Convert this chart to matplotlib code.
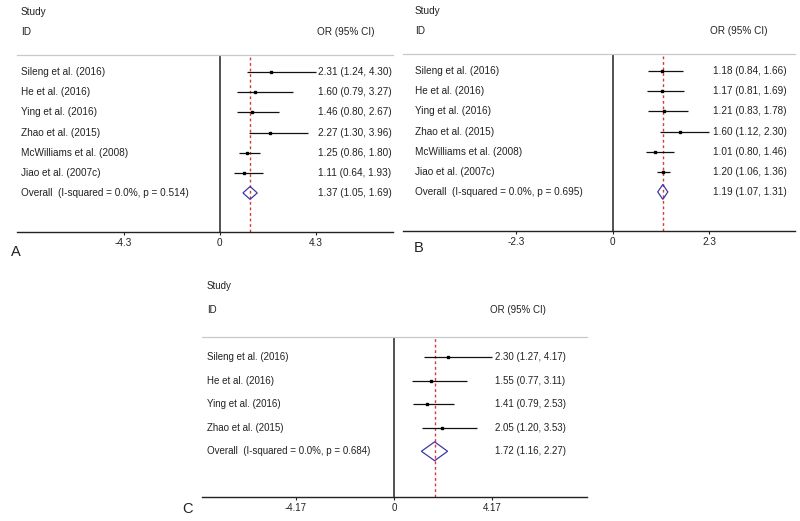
import matplotlib
matplotlib.use("Agg")
import matplotlib.pyplot as plt
from matplotlib.patches import Polygon
import matplotlib.transforms as mtrans

plt.rcParams['font.family'] = ['Liberation Sans', 'DejaVu Sans']

W, H = 800, 521

# ---------------- data ----------------
studies_A = ["Sileng et al. (2016)", "He et al. (2016)", "Ying et al. (2016)",
             "Zhao et al. (2015)", "McWilliams et al. (2008)", "Jiao et al. (2007c)"]
or_A = [2.31, 1.60, 1.46, 2.27, 1.25, 1.11]
lo_A = [1.24, 0.79, 0.80, 1.30, 0.86, 0.64]
hi_A = [4.30, 3.27, 2.67, 3.96, 1.80, 1.93]
overall_A = [1.37, 1.05, 1.69]
p_A = "0.514"
ticks_A = [-4.3, 0, 4.3]
ticklabels_A = ["-4.3", "0", "4.3"]

studies_B = ["Sileng et al. (2016)", "He et al. (2016)", "Ying et al. (2016)",
             "Zhao et al. (2015)", "McWilliams et al. (2008)", "Jiao et al. (2007c)"]
or_B = [1.18, 1.17, 1.21, 1.60, 1.01, 1.20]
lo_B = [0.84, 0.81, 0.83, 1.12, 0.80, 1.06]
hi_B = [1.66, 1.69, 1.78, 2.30, 1.46, 1.36]
overall_B = [1.19, 1.07, 1.31]
p_B = "0.695"
ticks_B = [-2.3, 0, 2.3]
ticklabels_B = ["-2.3", "0", "2.3"]

studies_C = ["Sileng et al. (2016)", "He et al. (2016)", "Ying et al. (2016)",
             "Zhao et al. (2015)"]
or_C = [2.30, 1.55, 1.41, 2.05]
lo_C = [1.27, 0.77, 0.79, 1.20]
hi_C = [4.17, 3.11, 2.53, 3.53]
overall_C = [1.72, 1.16, 2.27]
p_C = "0.684"
ticks_C = [-4.17, 0, 4.17]
ticklabels_C = ["-4.17", "0", "4.17"]

TEXT = "#222222"

fig = plt.figure(figsize=(W / 100, H / 100), dpi=100)
fig.patch.set_facecolor("white")


def panel(studies, est, lo, hi, overall, p, ticks, ticklabels,
          box, xlim, label_x, value_x, header_x, letter, letter_xy,
          fs, dh):
    left, right, top, bottom = box
    ax = fig.add_axes([left / W, 1 - bottom / H, (right - left) / W, (bottom - top) / H])
    n = len(studies)
    rows = list(range(n))
    ax.set_xlim(*xlim)
    ax.set_ylim(n + 1.94, -0.85)

    for s in ("left", "right"):
        ax.spines[s].set_visible(False)
    ax.spines["top"].set_color("#c4c9cf")
    ax.spines["top"].set_linewidth(0.9)
    ax.spines["bottom"].set_color("#222222")
    ax.spines["bottom"].set_linewidth(1.0)

    ax.axvline(0, color="#333333", lw=1.2, zorder=1)
    ax.axvline(overall[0], color="#d03a3a", lw=1.0, ls=(0, (2, 2)), zorder=2)

    ax.hlines(rows, lo, hi, color="#111111", lw=0.9, zorder=3)
    ax.plot(est, rows, "s", ms=1.8, color="black", zorder=4)

    e, l, h = overall
    diamond = Polygon([(l, n), (e, n - dh), (h, n), (e, n + dh)], closed=True,
                      fill=False, edgecolor="#3a3aa8", lw=0.9, zorder=5)
    ax.add_patch(diamond)

    ax.set_yticks([])
    ax.set_xticks(ticks)
    ax.set_xticklabels(ticklabels)
    ax.tick_params(axis="x", direction="out", length=2.5, width=0.8,
                   labelsize=fs, pad=2, colors="#222222", labelcolor=TEXT)

    tr = mtrans.blended_transform_factory(fig.transFigure, ax.transData)
    kw = dict(transform=tr, fontsize=fs, color=TEXT, va="center", ha="left", clip_on=False)
    ax.text(label_x / W, -3, "Study", **kw)
    ax.text(label_x / W, -2, "ID", **kw)
    ax.text(header_x / W, -2, "OR (95% CI)", **kw)
    for i in rows:
        ax.text(label_x / W, i, studies[i], **kw)
        ax.text(value_x / W, i, f"{est[i]:.2f} ({lo[i]:.2f}, {hi[i]:.2f})", **kw)
    ax.text(label_x / W, n, f"Overall  (I-squared = 0.0%, p = {p})", **kw)
    ax.text(value_x / W, n, f"{e:.2f} ({l:.2f}, {h:.2f})", **kw)

    fig.text(letter_xy[0] / W, 1 - letter_xy[1] / H, letter, fontsize=10.5,
             color=TEXT, va="center", ha="left")


panel(studies_A, or_A, lo_A, hi_A, overall_A, p_A, ticks_A, ticklabels_A,
      box=(17, 393, 55, 232), xlim=(-9.07, 7.77), label_x=21, value_x=318,
      header_x=317, letter="A", letter_xy=(11, 252), fs=7.2, dh=0.32)

panel(studies_B, or_B, lo_B, hi_B, overall_B, p_B, ticks_B, ticklabels_B,
      box=(403, 795, 54, 231), xlim=(-5.0, 4.34), label_x=415, value_x=713,
      header_x=710, letter="B", letter_xy=(414, 248), fs=7.2, dh=0.37)

panel(studies_C, or_C, lo_C, hi_C, overall_C, p_C, ticks_C, ticklabels_C,
      box=(202, 587, 337, 497), xlim=(-8.14, 8.18), label_x=207, value_x=495,
      header_x=490, letter="C", letter_xy=(182, 509), fs=7.0, dh=0.40)

fig.savefig("out.png", dpi=100, facecolor="white")
